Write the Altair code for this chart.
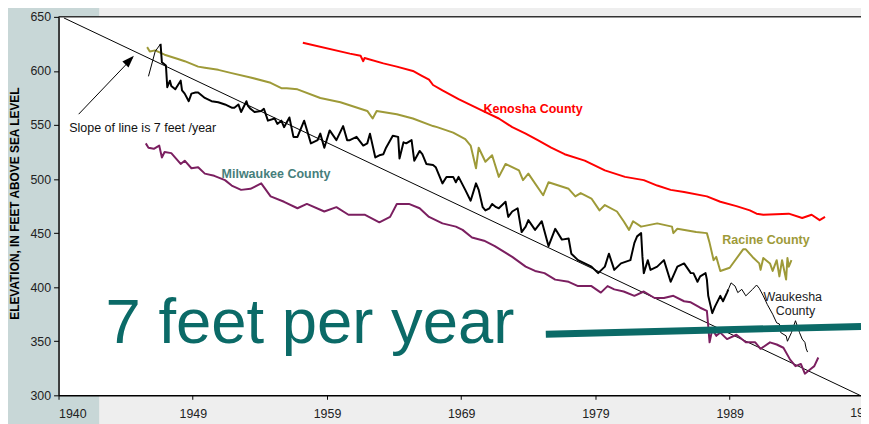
import altair as alt
import pandas as pd

# ---------------- data ----------------
X_TICKS = [1940, 1950, 1960, 1970, 1980, 1990]
X_TICK_LABELS = ["1940", "1949", "1959", "1969", "1979", "1989"]
Y_TICKS = [300, 350, 400, 450, 500, 550, 600, 650]

KENOSHA = [(1958.2, 626), (1961.7, 616), (1962.5, 614), (1962.7, 609), (1962.8, 612),
           (1964.2, 607), (1965.2, 604), (1966.4, 600), (1967.0, 596), (1967.6, 592),
           (1967.9, 587), (1968.6, 582), (1969.8, 574), (1970.8, 568), (1971.8, 562),
           (1972.8, 556), (1973.8, 548), (1974.8, 542), (1975.7, 536), (1976.7, 529),
           (1977.7, 523), (1979.2, 517), (1979.7, 514), (1980.7, 508), (1982.2, 502),
           (1983.6, 499), (1984.6, 494), (1985.6, 490), (1986.6, 488), (1988.3, 484),
           (1989.3, 479), (1990.5, 475), (1991.5, 471), (1992.0, 468), (1992.5, 467),
           (1994.4, 468), (1995.4, 464), (1996.1, 467), (1996.7, 462), (1997.1, 465)]

RACINE = [(1946.6, 622), (1946.8, 618), (1947.2, 619), (1947.9, 615), (1948.9, 611),
          (1949.4, 609), (1950.4, 604), (1950.9, 603), (1951.9, 601), (1952.9, 598),
          (1954.3, 594), (1955.8, 589), (1956.6, 584), (1957.0, 584), (1957.8, 583),
          (1959.5, 575), (1961.0, 571), (1963.0, 563), (1963.4, 556), (1963.7, 563),
          (1965.2, 560), (1966.4, 556), (1967.9, 549), (1968.2, 548), (1969.4, 543),
          (1970.3, 537), (1970.7, 531), (1971.1, 510), (1971.3, 529), (1971.8, 516),
          (1972.3, 522), (1972.8, 502), (1973.3, 514), (1974.3, 508), (1974.6, 499),
          (1975.0, 505), (1976.1, 485), (1976.5, 497), (1978.0, 491), (1978.5, 484),
          (1978.9, 487), (1979.7, 482), (1980.3, 471), (1980.7, 476), (1981.6, 470),
          (1982.1, 461), (1982.5, 453), (1982.8, 461), (1983.4, 456), (1984.6, 459),
          (1985.7, 456), (1985.8, 450), (1986.1, 454), (1987.5, 451), (1988.3, 450),
          (1988.5, 441), (1988.8, 425), (1989.0, 428), (1989.3, 415), (1990.0, 418),
          (1991.0, 435), (1991.2, 435), (1991.7, 428), (1992.2, 422), (1992.3, 416),
          (1992.5, 427), (1993.0, 422), (1993.2, 415), (1993.5, 425), (1993.7, 410),
          (1993.9, 425), (1994.1, 413), (1994.2, 407), (1994.3, 427), (1994.4, 419),
          (1994.6, 425)]

MILWAUKEE = [(1946.5, 533), (1946.7, 529), (1947.1, 528), (1947.5, 531), (1947.7, 520),
             (1947.9, 525), (1948.4, 524), (1949.1, 514), (1949.4, 517), (1949.9, 510),
             (1950.4, 511), (1950.9, 505), (1951.6, 503), (1952.4, 499), (1952.9, 494),
             (1953.6, 490), (1954.3, 491), (1955.1, 496), (1955.8, 484), (1956.8, 479),
             (1957.8, 473), (1958.5, 477), (1959.8, 470), (1960.7, 474), (1961.6, 467),
             (1962.8, 467), (1963.9, 460), (1964.7, 465), (1965.2, 477), (1966.1, 477),
             (1966.9, 473), (1967.6, 465), (1968.6, 459), (1969.6, 456), (1970.1, 453),
             (1970.8, 446), (1971.7, 443), (1972.5, 438), (1973.8, 428), (1974.8, 419),
             (1975.5, 415), (1976.2, 413), (1977.0, 407), (1978.0, 405), (1978.7, 401),
             (1979.7, 401), (1980.4, 395), (1980.9, 401), (1981.4, 398), (1982.1, 396),
             (1982.9, 392), (1983.6, 396), (1984.4, 390), (1985.1, 390), (1985.8, 392),
             (1986.6, 387), (1987.1, 386), (1987.8, 381), (1988.3, 378), (1988.4, 364),
             (1988.5, 349), (1988.7, 361), (1989.0, 355), (1989.3, 358), (1989.8, 352),
             (1990.5, 356), (1991.2, 349), (1991.9, 349), (1992.3, 343), (1993.0, 349),
             (1993.5, 347), (1994.0, 344), (1994.5, 333), (1994.9, 327), (1995.3, 329),
             (1995.6, 320), (1996.1, 325), (1996.3, 327), (1996.6, 335)]

WAUKESHA_START = [(1946.7, 595), (1947.2, 618), (1947.6, 625)]

WAUKESHA = [(1947.6, 625), (1947.7, 608), (1948.0, 605), (1948.1, 585), (1948.3, 591),
            (1948.4, 586), (1948.7, 583), (1949.1, 591), (1949.2, 582), (1949.4, 579),
            (1949.7, 572), (1949.9, 579), (1950.2, 580), (1950.4, 580), (1950.9, 575),
            (1951.4, 572), (1951.9, 571), (1952.4, 569), (1952.9, 566), (1953.1, 566),
            (1953.4, 569), (1953.6, 562), (1954.0, 572), (1954.1, 568), (1954.3, 565),
            (1954.6, 562), (1955.1, 563), (1955.3, 565), (1955.6, 554), (1956.1, 556),
            (1956.3, 551), (1956.6, 554), (1956.8, 548), (1957.2, 557), (1957.5, 539),
            (1957.8, 539), (1958.3, 554), (1958.8, 533), (1959.3, 536), (1959.5, 542),
            (1959.8, 529), (1960.2, 545), (1960.7, 536), (1961.2, 549), (1961.5, 536),
            (1961.7, 536), (1962.2, 539), (1962.7, 531), (1963.0, 533), (1963.2, 542),
            (1963.6, 520), (1963.9, 522), (1964.2, 523), (1964.4, 529), (1964.9, 540),
            (1965.3, 539), (1965.4, 519), (1965.7, 534), (1965.9, 533), (1966.3, 536),
            (1966.5, 517), (1966.9, 526), (1967.1, 523), (1967.4, 514), (1967.9, 513),
            (1968.1, 511), (1968.4, 502), (1968.6, 496), (1968.9, 502), (1969.4, 502),
            (1969.6, 497), (1969.8, 502), (1970.3, 490), (1970.7, 480), (1971.1, 496),
            (1971.3, 490), (1971.6, 474), (1971.8, 471), (1972.1, 473), (1972.3, 477),
            (1972.6, 474), (1972.8, 473), (1973.3, 479), (1973.5, 465), (1973.8, 470),
            (1974.2, 473), (1974.5, 451), (1974.8, 456), (1975.0, 462), (1975.5, 453),
            (1976.0, 461), (1976.5, 438), (1977.0, 454), (1977.5, 444), (1978.0, 445),
            (1978.2, 431), (1978.7, 425), (1979.2, 422), (1979.7, 419), (1980.2, 413),
            (1980.7, 419), (1981.0, 431), (1981.4, 416), (1981.9, 422), (1982.6, 425),
            (1982.9, 441), (1983.1, 447), (1983.4, 450), (1983.5, 428), (1983.6, 413),
            (1983.9, 425), (1984.1, 416), (1984.6, 419), (1985.1, 425), (1985.6, 405),
            (1986.1, 419), (1986.6, 422), (1987.1, 413), (1987.3, 413), (1987.6, 405),
            (1987.8, 410), (1988.2, 413), (1988.3, 407), (1988.4, 392), (1988.7, 376),
            (1988.9, 382), (1989.3, 392), (1989.5, 387), (1989.8, 395), (1989.9, 398)]

WAUKESHA_LATE = [(1989.9, 398), (1990.1, 404), (1990.4, 401), (1990.6, 395), (1990.9, 398),
                 (1991.2, 392), (1991.7, 398), (1992.0, 402), (1992.2, 399), (1992.5, 392),
                 (1992.8, 384), (1993.2, 375), (1993.5, 367), (1993.7, 366), (1993.8, 358),
                 (1994.2, 355), (1994.3, 350), (1994.6, 358), (1994.9, 369), (1995.2, 358),
                 (1995.4, 352), (1995.6, 349), (1995.7, 343), (1995.8, 340)]

SLOPE_LINE = [(1940.4, 649), (1999.7, 300)]
ARROW = [(1941.5, 560), (1945.5, 612)]
ARROW_HEAD = [(1945.3, 610)]
TEAL_BAR = [(1976.3, 356.5), (1999.78, 363.7)]

LABELS = [
    # text, year, elev, color, weight, size, align
    ("Kenosha County", 1975.35, 565.0, "#ff0000", "bold", 12.6, "center"),
    ("Racine County", 1992.7, 443.7, "#9e9a38", "bold", 12.6, "center"),
    ("Milwaukee County", 1956.2, 504.3, "#467e7b", "bold", 12.6, "center"),
    ("Waukesha", 1994.7, 391.3, "#222222", "normal", 12.6, "center"),
    ("County", 1994.9, 377.5, "#222222", "normal", 12.6, "center"),
    ("Slope of line is 7 feet /year", 1940.8, 547.5, "#111111", "normal", 12.6, "left"),
]
BIG_TEXT = ("7 feet per year", 1943.5, 348.0)

# ---------------- chart ----------------
W, H = 810, 382
FONT = "Liberation Sans"


def frame(pairs):
    return pd.DataFrame({"year": [p[0] for p in pairs],
                         "elev": [p[1] for p in pairs],
                         "i": list(range(len(pairs)))})


xs = alt.Scale(domain=[1940, 1999.78], nice=False, zero=False)
ys = alt.Scale(domain=[300, 650], nice=False, zero=False)

label_expr = " : ".join(f"datum.value == {v} ? '{l}'" for v, l in zip(X_TICKS, X_TICK_LABELS)) + " : ''"

x_axis = alt.Axis(values=X_TICKS, labelExpr=label_expr, title=None, grid=False,
                  tickSize=4, tickColor="#000", domainColor="#000", domainWidth=1.5,
                  labelFontSize=12.5, labelFont=FONT, labelColor="#222", labelPadding=8,
                  zindex=1)
y_axis = alt.Axis(values=Y_TICKS, title="ELEVATION, IN FEET ABOVE SEA LEVEL", grid=False,
                  tickSize=5, tickColor="#000", domainColor="#000", domainWidth=1.5,
                  labelFontSize=12.5, labelFont=FONT, labelColor="#222", labelPadding=3,
                  titleFont=FONT, titleFontSize=12, titleFontWeight="bold", titleColor="#000",
                  titleAngle=270, titleX=-44, titleY=H / 2 - 3, titleAlign="center",
                  titleBaseline="middle", zindex=1)

X = alt.X("year:Q", scale=xs, axis=x_axis)
Y = alt.Y("elev:Q", scale=ys, axis=y_axis)

one = pd.DataFrame({"a": [0]})

strip = alt.Chart(one).mark_rect(color="#c8d7d7").encode(
    x=alt.value(-59), x2=alt.value(41), y=alt.value(-16), y2=alt.value(H + 34))
plot_bg = alt.Chart(one).mark_rect(color="white").encode(
    x=alt.value(0), x2=alt.value(W), y=alt.value(0), y2=alt.value(H))
top_border = alt.Chart(one).mark_rule(color="#333", strokeWidth=1.5).encode(
    x=alt.value(0), x2=alt.value(W), y=alt.value(0))


def line(pairs, color, width):
    return alt.Chart(frame(pairs)).mark_line(color=color, strokeWidth=width,
                                               strokeJoin="round").encode(
        x=X, y=Y, order="i:Q")


layers = [
    strip, plot_bg,
    line(SLOPE_LINE, "#000000", 1),
    line(KENOSHA, "#ff0000", 2),
    line(RACINE, "#9e9a38", 2),
    line(MILWAUKEE, "#7b1f60", 2),
    line(WAUKESHA_START, "#000000", 1),
    line(WAUKESHA, "#000000", 2),
    line(WAUKESHA_LATE, "#000000", 1),
    line(ARROW, "#000000", 1),
    alt.Chart(frame(ARROW_HEAD)).mark_point(
        shape="M0,-1L0.7,1L-0.7,1Z", filled=True, color="#000", opacity=1,
        size=150, angle=44).encode(x=X, y=Y),
]

for text, yr, ev, col, wt, sz, al in LABELS:
    layers.append(
        alt.Chart(pd.DataFrame({"year": [yr], "elev": [ev], "t": [text]})).mark_text(
            font=FONT, fontSize=sz, fontWeight=wt, color=col, align=al,
            baseline="middle").encode(x=X, y=Y, text="t:N"))

layers.append(
    alt.Chart(pd.DataFrame({"year": [BIG_TEXT[1]], "elev": [BIG_TEXT[2]],
                            "t": [BIG_TEXT[0]]})).mark_text(
        font=FONT, fontSize=64, color="#0b6a67", align="left",
        baseline="alphabetic").encode(x=X, y=Y, text="t:N"))

layers.append(
    alt.Chart(frame(TEAL_BAR)).mark_line(color="#0b6a67", strokeWidth=7,
                                         strokeCap="butt").encode(x=X, y=Y, order="i:Q"))

layers.append(top_border)

# the next (cut-off) tick label at the right edge
layers.append(
    alt.Chart(pd.DataFrame({"year": [2000], "t": ["1999"]})).mark_text(
        font=FONT, fontSize=12.5, color="#222", align="center", baseline="top").encode(
        x=alt.X("year:Q", scale=xs, axis=x_axis), y=alt.value(H + 12), text="t:N"))

chart = alt.layer(*layers).properties(
    width=W, height=H,
    background="#eeeeee",
    padding={"left": 51, "top": 7, "right": 0, "bottom": 27},
    autosize=alt.AutoSizeParams(type="none"),
).configure_view(stroke=None)

chart.save("out.html", embed_options={"renderer": "svg", "actions": False})
